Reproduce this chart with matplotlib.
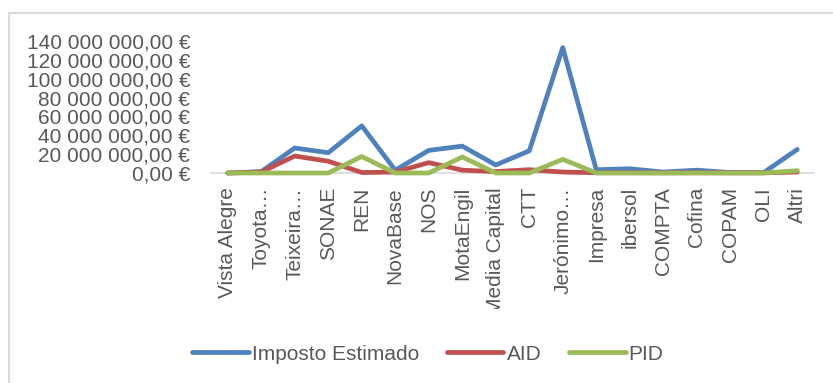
import matplotlib
matplotlib.use('Agg')
import matplotlib.pyplot as plt
from matplotlib.lines import Line2D
from matplotlib.patches import Rectangle
from matplotlib.ticker import FuncFormatter, MultipleLocator

plt.rcParams['font.family'] = ['Liberation Sans', 'DejaVu Sans']

empresas = ['Vista Alegre', 'Toyota…', 'Teixeira…', 'SONAE', 'REN', 'NovaBase', 'NOS',
            'MotaEngil', 'Media Capital', 'CTT', 'Jerónimo…', 'Impresa', 'ibersol',
            'COMPTA', 'Cofina', 'COPAM', 'OLI', 'Altri']
# values in euros (in millions)
imposto = [0, 1.5, 26.5, 21.5, 50, 3, 24, 28.5, 8.5, 23.5, 133, 3.5, 4.5, 1, 3, 0.5, 0.5, 25]
aid = [0, 1, 18, 12.5, 0.5, 1, 11, 3, 1.5, 3.5, 1, 0.3, 0.3, 0.2, 0.3, 0.2, 0.2, 1]
pid = [0, 0, 0, 0, 17.5, 0, 0, 17, 0, 0, 14.5, 0, 0, 0, 0, 0, 0, 2.5]
series = [('Imposto Estimado', imposto, '#4F81BD'),
          ('AID', aid, '#C0504D'),
          ('PID', pid, '#9BBB59')]

grey = '#595959'
fs = 15

fig = plt.figure(figsize=(8.33, 3.83), dpi=100)
ax = fig.add_axes([211/833, 1-173/383, 603/833, 132/383])

x = list(range(len(empresas)))
for name, vals, col in series:
    ax.plot(x, [v*1e6 for v in vals], color=col, lw=3.4, label=name,
            solid_capstyle='round', solid_joinstyle='round', clip_on=False)

ax.set_xlim(-0.5, len(empresas)-0.5)
ax.set_ylim(0, 140e6)
ax.yaxis.set_major_locator(MultipleLocator(20e6))

def euro(v, pos):
    s = f'{v:,.2f}'.replace(',', ' ').replace('.', ',')
    return s + ' €'
ax.yaxis.set_major_formatter(FuncFormatter(euro))

for s in ['top', 'right', 'left']:
    ax.spines[s].set_visible(False)
ax.spines['bottom'].set_color('#D9D9D9')
ax.spines['bottom'].set_linewidth(1.2)
ax.spines['bottom'].set_zorder(0)

ax.set_xticks(x)
ax.set_xticklabels(empresas, rotation=90, fontsize=fs, color=grey)
ax.tick_params(axis='x', length=0, pad=10)
ax.tick_params(axis='y', length=0, pad=15, labelsize=fs, labelcolor=grey)

# clip category labels like the original chart area does
clip = Rectangle((0, 1 - 309/383), 1, 309/383, transform=fig.transFigure, fill=False, visible=False)
fig.add_artist(clip)
for lbl in ax.get_xticklabels():
    lbl.set_clip_path(clip)

leg = fig.legend(loc='center', bbox_to_anchor=(428/833, 1-354/383), ncol=3, frameon=False,
                 fontsize=fs, handlelength=2.7, handletextpad=0.15, columnspacing=1.35,
                 labelcolor=grey)

# chart border (light grey)
fig.add_artist(Line2D([8.5/833, 1], [1-12.5/383, 1-12.5/383], transform=fig.transFigure,
                      color='#D9D9D9', lw=1.5))
fig.add_artist(Line2D([8.5/833, 8.5/833], [0, 1-12.5/383], transform=fig.transFigure,
                      color='#D9D9D9', lw=1.5))

fig.savefig('out.png', dpi=100)
